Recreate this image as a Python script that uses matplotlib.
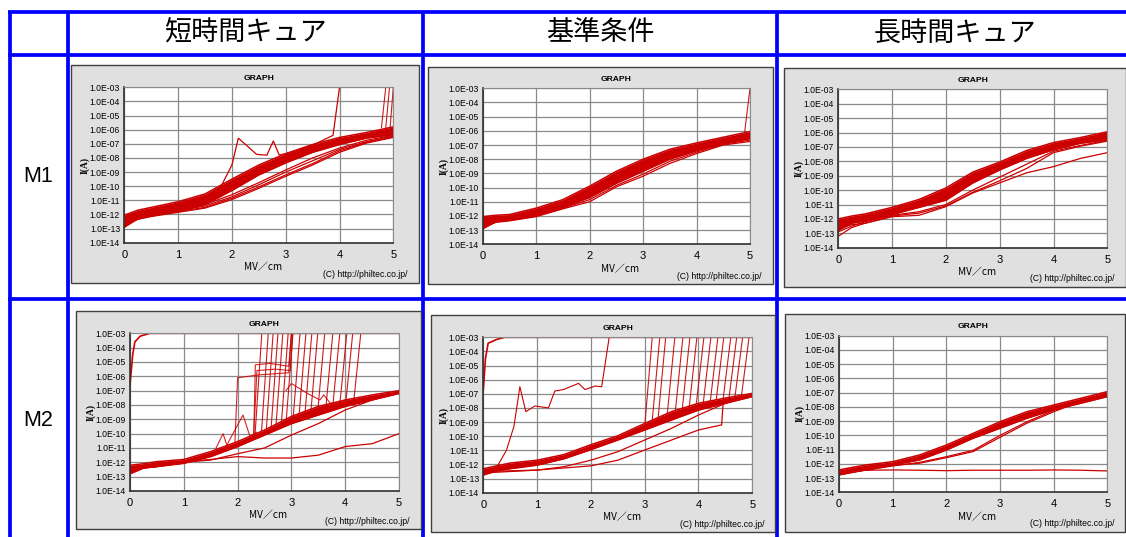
import matplotlib
matplotlib.use("Agg")
import matplotlib.pyplot as plt
from matplotlib.patches import Rectangle
from matplotlib.lines import Line2D
import numpy as np

W, H = 1126, 537
RED = "#cc0000"

# ---------------- data ----------------
col_titles = ["短時間キュア", "基準条件", "長時間キュア"]
row_titles = ["M1", "M2"]
y_tick_labels = ["1.0E-03", "1.0E-04", "1.0E-05", "1.0E-06", "1.0E-07", "1.0E-08",
                 "1.0E-09", "1.0E-10", "1.0E-11", "1.0E-12", "1.0E-13", "1.0E-14"]
x_tick_labels = ["0", "1", "2", "3", "4", "5"]

field = [0, 0.25, 0.5, 1, 1.5, 2, 2.5, 3, 3.5, 4, 4.5, 5]   # MV/cm

# M1 short cure  (log10 I)
m1s_band_hi = [-12.05, -11.7, -11.5, -11.1, -10.55, -9.5, -8.5, -7.7, -7.05, -6.55, -6.2, -5.8]
m1s_band_lo = [-12.9, -12.3, -12.1, -11.75, -11.3, -10.3, -9.2, -8.35, -7.6, -7.05, -6.6, -6.35]
m1s_low1 = [-12.6, -12.2, -12.0, -11.7, -11.3, -10.6, -9.75, -8.85, -8.0, -7.3, -6.75, -6.4]
m1s_low2 = [-12.7, -12.3, -12.1, -11.75, -11.4, -10.75, -9.9, -9.0, -8.2, -7.4, -6.85, -6.45]
m1s_low3 = [-12.7, -12.3, -12.1, -11.8, -11.5, -10.85, -10.05, -9.2, -8.4, -7.5, -6.9, -6.5]
m1s_low4 = [-12.8, -12.35, -12.15, -11.85, -11.55, -10.95, -10.15, -9.3, -8.5, -7.6, -6.95, -6.55]
m1s_spike_x = [0, 0.5, 1, 1.5, 1.8, 2.0, 2.12, 2.46, 2.65, 2.77, 2.88, 3.0, 3.5, 3.88, 4.0, 5.0]
m1s_spike_y = [-12.5, -12.0, -11.5, -10.9, -10.0, -8.5, -6.6, -7.75, -7.8, -6.8, -7.8, -7.7, -7.1, -6.4, -3.0, -3.0]
m1s_bd_start_x = [4.78, 4.86, 4.94]
m1s_bd_start_y = [-5.85, -5.85, -5.9]
m1s_bd_top_x = [4.86, 4.93, 5.0]

# M1 standard
m1n_band_hi = [-12.05, -11.95, -11.9, -11.45, -10.85, -9.9, -8.85, -8.0, -7.3, -6.85, -6.45, -6.05]
m1n_band_lo = [-12.9, -12.4, -12.3, -12.0, -11.4, -10.7, -9.7, -8.85, -8.0, -7.4, -6.9, -6.55]
m1n_low1 = [-12.8, -12.45, -12.35, -12.05, -11.5, -11.0, -9.95, -9.2, -8.3, -7.6, -7.0, -6.75]
m1n_low2 = [-12.7, -12.4, -12.3, -12.0, -11.45, -10.85, -9.85, -9.05, -8.15, -7.5, -6.95, -6.65]
m1n_bd_start_x = [4.9]
m1n_bd_start_y = [-6.1]
m1n_bd_top_x = [5.0]

# M1 long cure
m1l_band_hi = [-12.0, -11.8, -11.65, -11.2, -10.65, -9.85, -8.75, -8.05, -7.25, -6.7, -6.35, -5.95]
m1l_band_lo = [-12.8, -12.3, -12.15, -11.7, -11.2, -10.7, -9.5, -8.6, -7.8, -7.2, -6.75, -6.5]
m1l_low1 = [-12.9, -12.5, -12.2, -11.75, -11.5, -11.0, -10.0, -9.1, -8.2, -7.3, -6.9, -6.55]
m1l_low2 = [-13.2, -12.6, -12.3, -11.8, -11.6, -11.1, -10.15, -9.35, -8.5, -7.4, -6.95, -6.6]
m1l_low3 = [-12.7, -12.4, -12.3, -11.85, -11.75, -11.15, -10.2, -9.5, -8.8, -8.37, -7.8, -7.4]

# M2 short cure
m2s_band_hi = [-12.2, -12.1, -11.95, -11.8, -11.25, -10.55, -9.75, -8.8, -8.1, -7.65, -7.3, -7.0]
m2s_band_lo = [-12.8, -12.4, -12.3, -12.07, -11.6, -10.9, -10.1, -9.3, -8.7, -8.1, -7.65, -7.2]
m2s_low1 = [-12.5, -12.3, -12.2, -12.0, -11.84, -11.4, -11.0, -10.1, -9.3, -8.35, -7.65, -7.07]
m2s_low2 = [-12.6, -12.4, -12.3, -11.95, -11.8, -11.6, -11.7, -11.7, -11.5, -10.9, -10.7, -10.0]
m2s_early_x = [0, 0.05, 0.09, 0.19, 0.37, 5]
m2s_early_y = [-6.6, -4.5, -3.6, -3.2, -3.0, -3.0]
m2s_step_x = [1.95, 2.0, 2.4, 2.95, 3.0]
m2s_step_y = [-10.6, -6.1, -5.9, -5.75, -3.0]
m2s_step2_x = [2.3, 2.33, 2.6, 2.95, 3.0]
m2s_step2_y = [-10.1, -5.2, -5.1, -5.3, -3.0]
m2s_step3_x = [2.3, 2.36, 2.7, 2.98, 3.02]
m2s_step3_y = [-10.0, -5.6, -5.5, -5.6, -3.0]
m2s_zig_x = [1.6, 1.73, 1.8, 2.1, 2.23, 2.35]
m2s_zig_y = [-11.0, -10.0, -10.8, -8.7, -10.2, -9.9]
m2s_hump_x = [2.9, 3.0, 3.3, 3.53, 3.6, 3.75]
m2s_hump_y = [-7.0, -6.5, -7.2, -7.65, -7.3, -8.0]
m2s_bd_start_x = [2.32, 2.44, 2.53, 2.62, 2.71, 2.81, 2.9, 3.03, 3.14, 3.25, 3.36, 3.49, 3.64, 3.77, 3.9, 4.01, 4.16]
m2s_bd_start_y = [-10.3, -10.1, -9.95, -9.75, -9.6, -9.45, -9.25, -9.0, -8.85, -8.7, -8.55, -8.4, -8.2, -8.05, -7.95, -7.85, -7.7]
m2s_bd_top_x = [2.45, 2.57, 2.66, 2.75, 2.84, 2.94, 3.03, 3.16, 3.27, 3.38, 3.49, 3.62, 3.77, 3.90, 4.03, 4.14, 4.29]

# M2 standard
m2n_band_hi = [-12.3, -12.1, -11.9, -11.7, -11.3, -10.6, -9.97, -9.1, -8.26, -7.67, -7.3, -6.97]
m2n_band_lo = [-12.75, -12.45, -12.3, -12.05, -11.6, -10.95, -10.27, -9.56, -8.85, -8.15, -7.67, -7.2]
m2n_low1 = [-12.6, -12.55, -12.5, -12.4, -12.16, -11.7, -11.1, -10.27, -9.44, -8.5, -7.67, -7.08]
m2n_low2_x = [0, 0.5, 1, 2, 2.5, 3, 3.5, 4, 4.43, 4.46, 5]
m2n_low2_y = [-12.5, -12.45, -12.4, -12.1, -11.7, -10.98, -10.27, -9.56, -9.2, -7.5, -7.08]
m2n_early_x = [0, 0.04, 0.09, 0.25, 0.4, 5]
m2n_early_y = [-6.73, -4.5, -3.42, -3.15, -3.0, -3.0]
m2n_spike_x = [0, 0.25, 0.43, 0.57, 0.68, 0.79, 0.96, 1.21, 1.33, 1.49, 1.77, 1.89, 2.08, 2.2, 2.34, 5]
m2n_spike_y = [-12.6, -12.2, -11.0, -9.3, -6.5, -8.26, -7.86, -8.0, -6.8, -6.7, -6.26, -6.7, -6.45, -6.5, -3.0, -3.0]
m2n_bd_start_x = [3.0, 3.14, 3.25, 3.42, 3.57, 3.7, 3.83, 3.96, 4.09, 4.22, 4.33, 4.46, 4.57, 4.68, 4.8]
m2n_bd_start_y = [-9.3, -8.9, -8.7, -8.4, -8.2, -8.0, -7.85, -7.7, -7.6, -7.5, -7.4, -7.3, -7.2, -7.15, -7.1]
m2n_bd_top_x = [3.14, 3.28, 3.39, 3.56, 3.71, 3.84, 3.97, 4.1, 4.23, 4.36, 4.47, 4.6, 4.71, 4.82, 4.94]

# M2 long cure
m2l_band_hi = [-12.43, -12.25, -12.08, -11.85, -11.38, -10.68, -9.86, -9.04, -8.34, -7.87, -7.4, -6.93]
m2l_band_lo = [-12.78, -12.6, -12.43, -12.08, -11.73, -11.03, -10.2, -9.5, -8.8, -8.2, -7.75, -7.28]
m2l_low1 = [-12.7, -12.5, -12.4, -12.1, -11.96, -11.57, -11.14, -10.14, -9.15, -8.34, -7.63, -7.17]
m2l_low2 = [-12.75, -12.55, -12.45, -12.15, -11.9, -11.5, -11.05, -10.0, -9.05, -8.25, -7.55, -7.1]
m2l_flat = [-12.67, -12.45, -12.45, -12.43, -12.45, -12.48, -12.45, -12.45, -12.45, -12.43, -12.45, -12.5]

# ---------------- layout (pixels) ----------------
panel_boxes = [(71, 65, 418.7, 282.7), (428.3, 66.7, 772.7, 284.3), (784.3, 67.7, 1125.5, 286.7),
               (76, 310.7, 420.7, 529.3), (430.7, 315, 775, 532.3), (785, 314, 1125.5, 531.7)]
plot_boxes = [(124.3, 87.3, 393.3, 242.7), (482.7, 88.3, 750, 244.3), (838.3, 89.3, 1107.3, 247.7),
              (130, 333.3, 399, 491), (483.3, 337.3, 752.3, 492.7), (839, 335.7, 1107.3, 492.3)]

fig = plt.figure(figsize=(W / 100, H / 100), dpi=100)
fig.patch.set_facecolor("white")

def fx(x): return x / W
def fy(y): return 1 - y / H

# table lines
BLUE = "#0000ff"
for x in [9.5, 68, 423, 777]:
    fig.add_artist(Line2D([fx(x), fx(x)], [fy(11.5), fy(537)], color=BLUE, lw=2.7,
                          solid_capstyle="butt", zorder=-2))
for y in [11.5, 54.5, 298.5]:
    fig.add_artist(Line2D([fx(8), fx(1126)], [fy(y), fy(y)], color=BLUE, lw=2.7,
                          solid_capstyle="butt", zorder=-2))

cjk = ["Noto Sans CJK JP", "DejaVu Sans"]
for cx, t in zip([245.5, 600, 955], col_titles):
    fig.text(fx(cx), fy(33), t, ha="center", va="center", fontsize=19.5, family=cjk)
for cy, t in zip([176.5, 420], row_titles):
    fig.text(fx(38.5), fy(cy), t, ha="center", va="center", fontsize=15.5, family=["Liberation Sans"])

def seg(ax, xs, ys, lw=0.9, alpha=1.0):
    ax.plot(xs, [10.0 ** v for v in ys], color=RED, lw=lw, alpha=alpha, solid_joinstyle="round")

def band(ax, hi, lo):
    ax.fill_between(field, [10.0 ** v for v in lo], [10.0 ** v for v in hi], color=RED, lw=0)
    seg(ax, field, hi, lw=1.1)
    seg(ax, field, lo, lw=1.1)

def breakdowns(ax, sx, sy, tx):
    for a, b, c in zip(sx, sy, tx):
        seg(ax, [a, c, 5.0], [b, -3.0, -3.0], lw=0.8, alpha=0.9)

axes = []
for (pl, pt, pr, pb), (l, t, r, b) in zip(panel_boxes, plot_boxes):
    fig.add_artist(Rectangle((fx(pl), fy(pb)), fx(pr - pl), (pb - pt) / H, transform=fig.transFigure,
                             facecolor="#e0e0e0", edgecolor="#404040", lw=1.0, zorder=-1))
    ax = fig.add_axes([fx(l), fy(b), fx(r - l), (b - t) / H])
    ax.set_zorder(1)
    ax.set_facecolor("white")
    ax.set_yscale("log")
    ax.set_xlim(0, 5)
    ax.set_ylim(1e-14, 1e-3)
    ax.set_yticks([10.0 ** (-3 - i) for i in range(12)])
    ax.set_yticklabels(y_tick_labels, fontsize=6.2, family="Liberation Sans")
    ax.set_xticks(range(6))
    ax.set_xticklabels(x_tick_labels, fontsize=8, family="Liberation Sans")
    ax.tick_params(axis="y", which="major", length=0, pad=3)
    ax.yaxis.set_minor_locator(matplotlib.ticker.LogLocator(base=10, subs=np.arange(2, 10)))
    ax.yaxis.set_minor_formatter(matplotlib.ticker.NullFormatter())
    ax.tick_params(axis="y", which="minor", direction="in", length=2, width=0.6, color="#303030")
    ax.tick_params(axis="x", length=0, pad=5)
    ax.grid(True, which="major", axis="both", color="#8a8a8a", lw=0.9)
    ax.set_axisbelow(True)
    for s in ["top", "right"]:
        ax.spines[s].set_color("#8a8a8a")
        ax.spines[s].set_linewidth(0.8)
    for s in ["left", "bottom"]:
        ax.spines[s].set_color("#303030")
        ax.spines[s].set_linewidth(1.2)
    cx = (l + r) / 2
    fig.text(fx(cx), fy(t - 9), "GRAPH", ha="center", va="center", fontsize=6.1, weight="bold",
             family="Liberation Sans")
    fig.text(fx(cx + 4), fy(b + 24.5), "MV／cm", ha="center", va="center", fontsize=7.2, family=cjk)
    fig.text(fx(pr - 11), fy(pb - 8), "(C) http://philtec.co.jp/", ha="right", va="center",
             fontsize=6.2, family="Liberation Sans")
    fig.text(fx(l - 39), fy((t + b) / 2), "I(A)", ha="center", va="center", rotation=90,
             fontsize=7, weight="bold", family="Liberation Serif")
    axes.append(ax)

# M1 short
ax = axes[0]
band(ax, m1s_band_hi, m1s_band_lo)
for c in [m1s_low1, m1s_low2, m1s_low3, m1s_low4]:
    seg(ax, field, c)
seg(ax, m1s_spike_x, m1s_spike_y)
breakdowns(ax, m1s_bd_start_x, m1s_bd_start_y, m1s_bd_top_x)

# M1 standard
ax = axes[1]
band(ax, m1n_band_hi, m1n_band_lo)
seg(ax, field, m1n_low1)
seg(ax, field, m1n_low2)
breakdowns(ax, m1n_bd_start_x, m1n_bd_start_y, m1n_bd_top_x)

# M1 long
ax = axes[2]
band(ax, m1l_band_hi, m1l_band_lo)
for c in [m1l_low1, m1l_low2, m1l_low3]:
    seg(ax, field, c)

# M2 short
ax = axes[3]
band(ax, m2s_band_hi, m2s_band_lo)
seg(ax, field, m2s_low1)
seg(ax, field, m2s_low2)
seg(ax, m2s_early_x, m2s_early_y, lw=1.2)
for xs, ys in [(m2s_step_x, m2s_step_y), (m2s_step2_x, m2s_step2_y), (m2s_step3_x, m2s_step3_y),
               (m2s_zig_x, m2s_zig_y), (m2s_hump_x, m2s_hump_y)]:
    seg(ax, xs, ys, lw=0.8, alpha=0.85)
breakdowns(ax, m2s_bd_start_x, m2s_bd_start_y, m2s_bd_top_x)

# M2 standard
ax = axes[4]
band(ax, m2n_band_hi, m2n_band_lo)
seg(ax, field, m2n_low1)
seg(ax, m2n_low2_x, m2n_low2_y)
seg(ax, m2n_early_x, m2n_early_y, lw=1.2)
seg(ax, m2n_spike_x, m2n_spike_y, lw=0.8)
breakdowns(ax, m2n_bd_start_x, m2n_bd_start_y, m2n_bd_top_x)

# M2 long
ax = axes[5]
band(ax, m2l_band_hi, m2l_band_lo)
seg(ax, field, m2l_low1)
seg(ax, field, m2l_low2)
seg(ax, field, m2l_flat)

fig.savefig("out.png", dpi=100, facecolor="white")
